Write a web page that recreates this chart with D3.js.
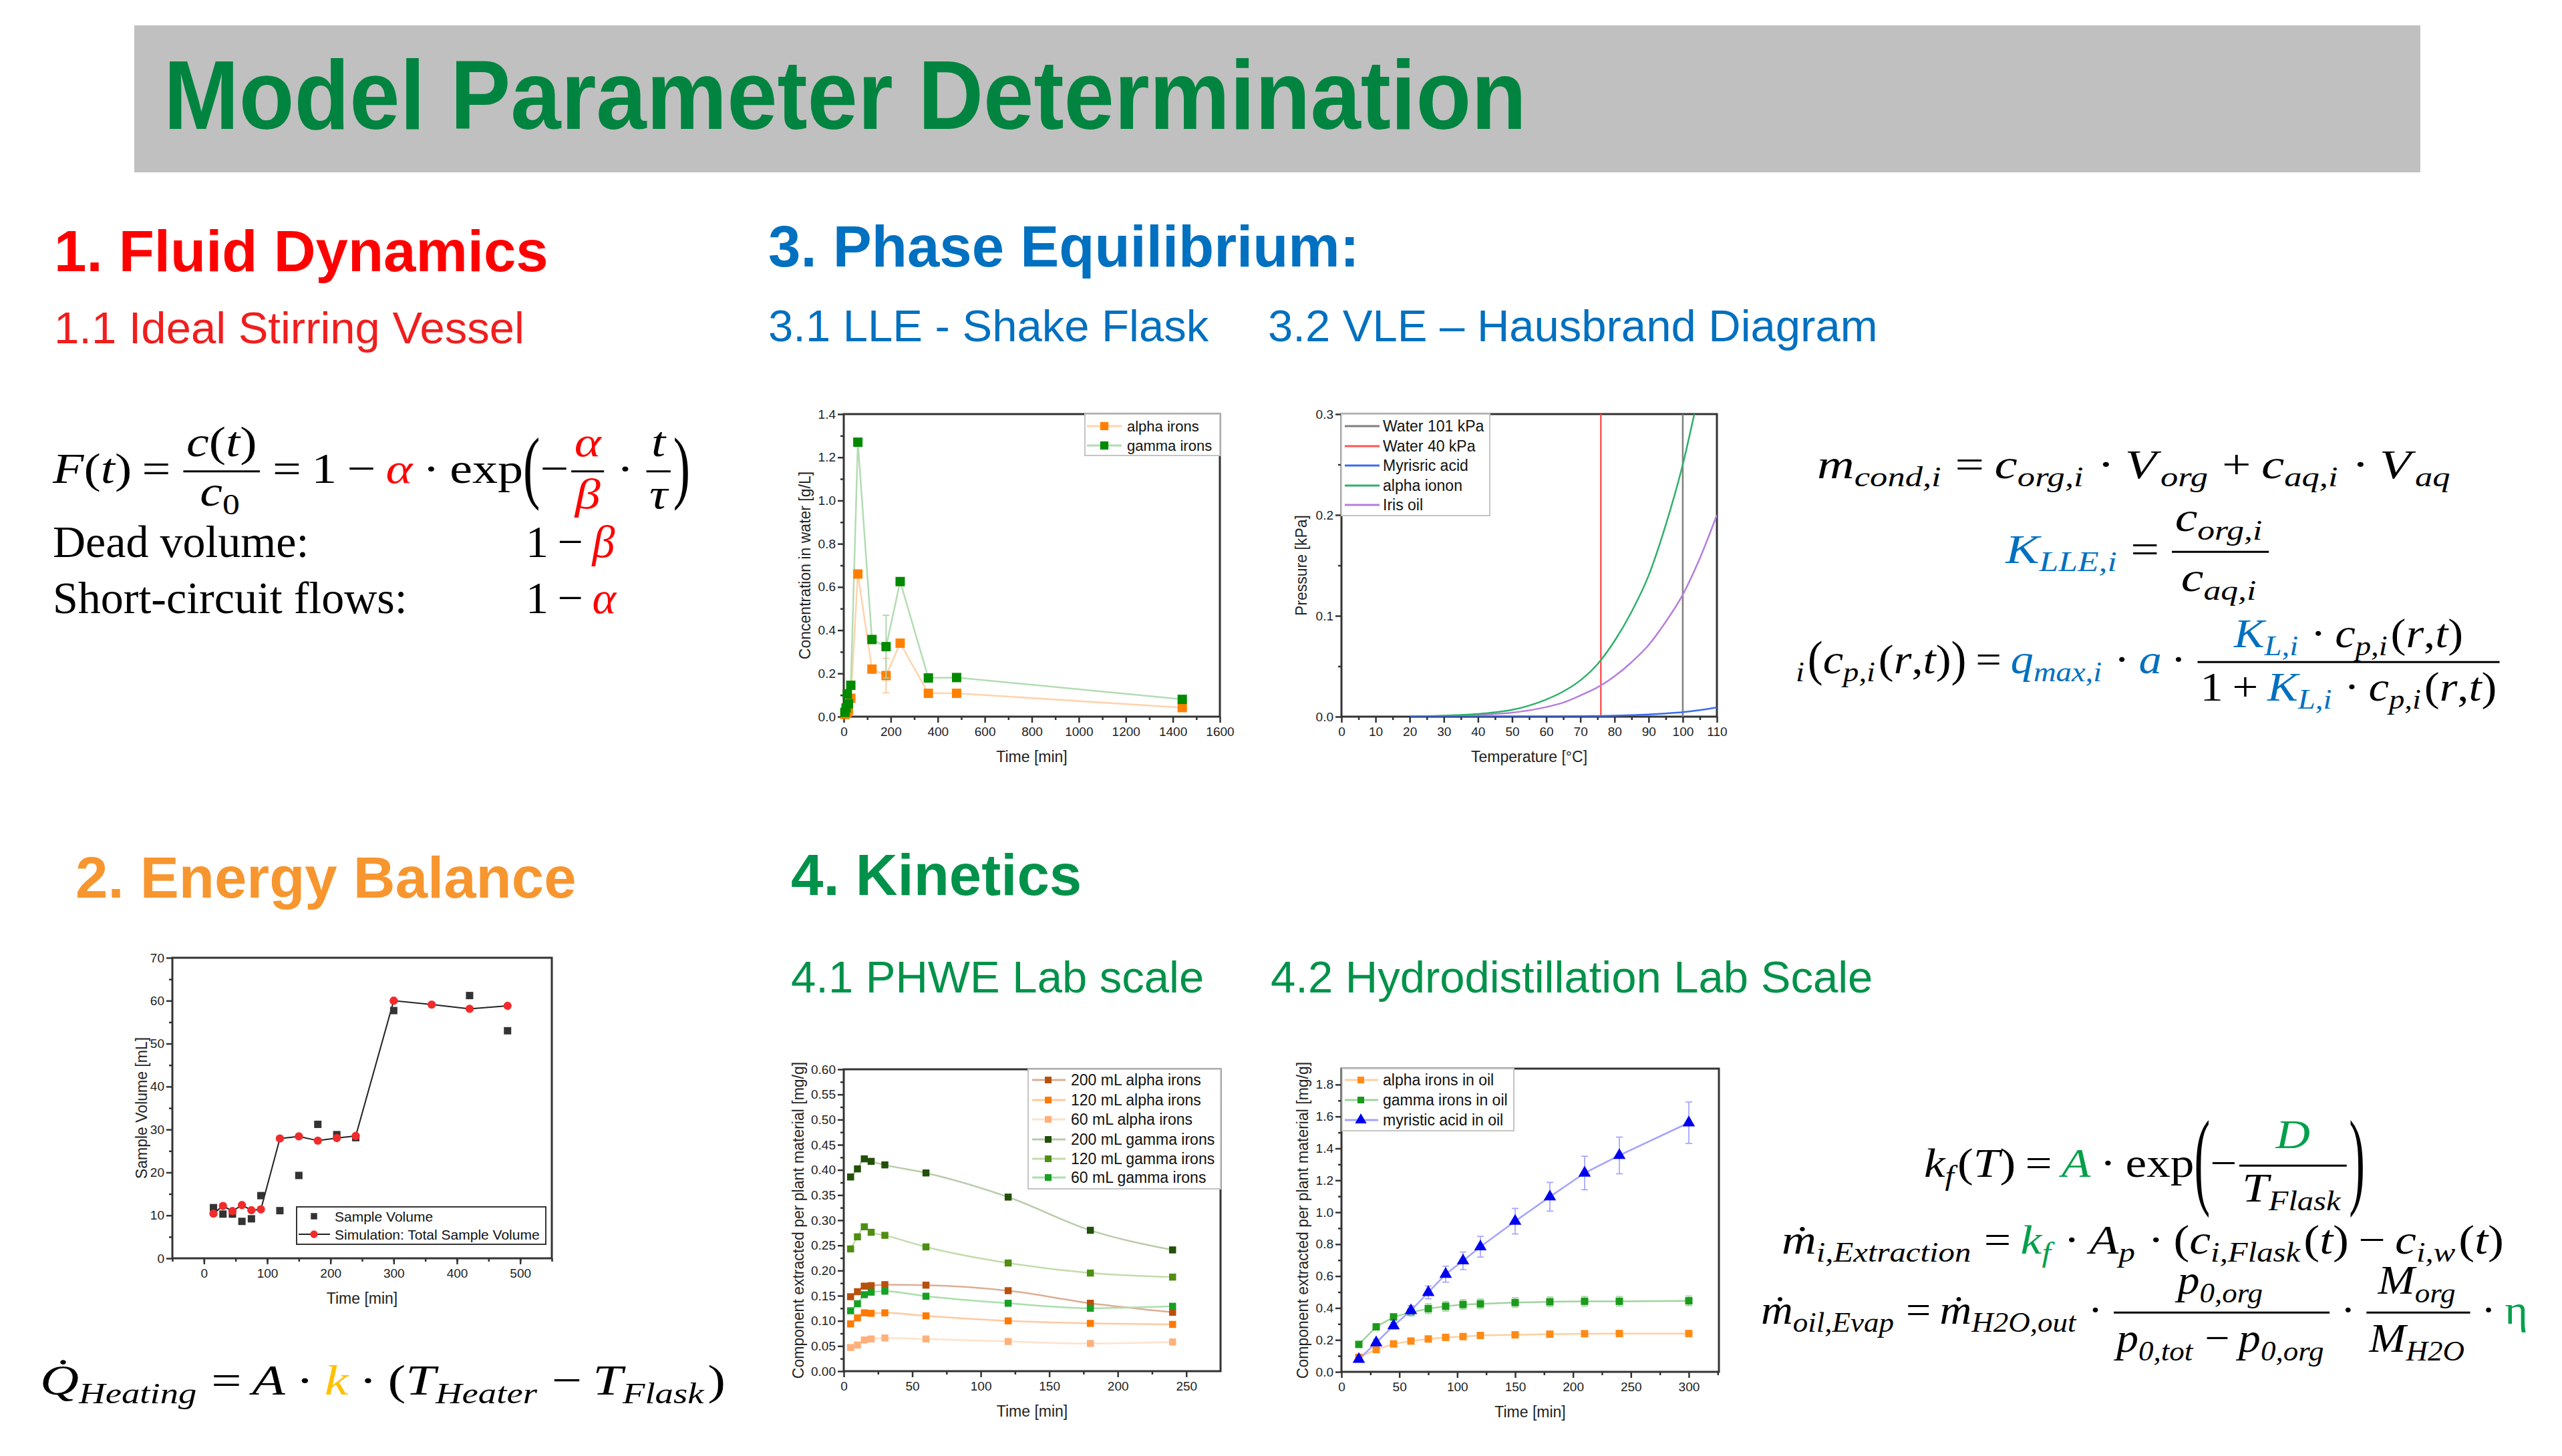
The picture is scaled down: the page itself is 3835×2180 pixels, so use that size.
<!DOCTYPE html>
<head>
  <meta charset="utf-8">
  <script src="https://d3js.org/d3.v7.min.js"></script>
  <style>
    body { margin: 0; background: #fff; }
    text { font-family: "Liberation Sans", Arial, sans-serif; }
    .math text { font-family: "Liberation Serif", "Times New Roman", serif; }
  </style>
</head>

<body>
  <script>
    // ---- 3.1 LLE shake flask
    var lleTime = [5, 10, 15, 20, 30, 60, 120, 180, 240, 360, 480, 1440];
    var lleAlpha = [0.01, 0.015, 0.02, 0.03, 0.085, 0.66, 0.22, 0.19, 0.34, 0.108, 0.108, 0.042];
    var lleGamma = [0.02, 0.04, 0.105, 0.06, 0.145, 1.27, 0.357, 0.324, 0.625, 0.179, 0.181, 0.08];
    var lleAlphaErr = [0, 0, 0, 0, 0, 0, 0, 0.08, 0, 0, 0, 0];
    var lleGammaErr = [0, 0, 0, 0, 0, 0, 0, 0.145, 0, 0, 0, 0];
    var lleNames = ["alpha irons", "gamma irons"];

    // ---- 3.2 VLE Hausbrand diagram
    var vleTemp = [20, 25, 30, 35, 40, 45, 50, 55, 60, 65, 70, 75, 80, 85, 90, 95, 100, 105, 110];
    var vleMyristic = [0, 0, 0, 0, 0, 0.0001, 0.0001, 0.0002, 0.0002, 0.0003, 0.0005, 0.0007, 0.001, 0.0015, 0.0022, 0.0032, 0.0045, 0.0065, 0.0092];
    var vleIonon = [0.0002, 0.0005, 0.001, 0.0017, 0.0027, 0.0043, 0.0068, 0.011, 0.017, 0.025, 0.036, 0.052, 0.075, 0.104, 0.14, 0.19, 0.25, 0.325, 0.4];
    var vleIris = [0.0001, 0.0003, 0.0006, 0.001, 0.0016, 0.0026, 0.004, 0.0062, 0.0095, 0.014, 0.021, 0.029, 0.04, 0.054, 0.071, 0.094, 0.121, 0.157, 0.2];
    var waterBoil = [100, 76];
    var vleNames = ["Water 101 kPa", "Water 40 kPa", "Myrisric acid", "alpha ionon", "Iris oil"];

    // ---- 2. Energy balance
    var evTime = [15, 30, 45, 60, 75, 90, 120, 150, 180, 210, 240, 300, 420, 480];
    var evSample = [11.8, 10.3, 10.3, 8.6, 9.2, 14.6, 11.1, 19.3, 31.2, 28.8, 28.1, 57.7, 61.2, 53.0];
    var simTime = [15, 30, 45, 60, 75, 90, 120, 150, 180, 210, 240, 300, 360, 420, 480];
    var simVolume = [10.4, 12.2, 11.0, 12.4, 11.2, 11.4, 27.9, 28.4, 27.4, 28.0, 28.5, 60.0, 59.1, 58.1, 58.8];
    var evNames = ["Sample Volume", "Simulation: Total Sample Volume"];

    // ---- 4.1 PHWE lab scale
    var phweTime = [5, 10, 15, 20, 30, 60, 120, 180, 240];
    var phweA200 = [0.148, 0.158, 0.169, 0.170, 0.172, 0.171, 0.160, 0.135, 0.117];
    var phweA120 = [0.094, 0.106, 0.116, 0.115, 0.116, 0.110, 0.100, 0.095, 0.093];
    var phweA60 = [0.047, 0.052, 0.062, 0.064, 0.066, 0.064, 0.059, 0.055, 0.058];
    var phweG200 = [0.386, 0.402, 0.422, 0.417, 0.410, 0.394, 0.346, 0.280, 0.241];
    var phweG120 = [0.243, 0.267, 0.287, 0.276, 0.270, 0.247, 0.215, 0.195, 0.187];
    var phweG60 = [0.120, 0.134, 0.152, 0.157, 0.159, 0.149, 0.135, 0.125, 0.129];
    var phweNames = ["200 mL alpha irons", "120 mL alpha irons", "60 mL alpha irons",
      "200 mL gamma irons", "120 mL gamma irons", "60 mL gamma irons"];

    // ---- 4.2 Hydrodistillation lab scale
    var hdTime = [15, 30, 45, 60, 75, 90, 105, 120, 150, 180, 210, 240, 300];
    var hdAlpha = [0.091, 0.14, 0.175, 0.193, 0.206, 0.216, 0.221, 0.228, 0.232, 0.236, 0.239, 0.24, 0.24];
    var hdGamma = [0.172, 0.282, 0.344, 0.373, 0.396, 0.411, 0.422, 0.426, 0.434, 0.439, 0.442, 0.442, 0.445];
    var hdMyristic = [0.079, 0.183, 0.289, 0.384, 0.498, 0.612, 0.696, 0.784, 0.944, 1.097, 1.246, 1.356, 1.561];
    var hdGammaErr = [0.01, 0.01, 0.02, 0.02, 0.03, 0.03, 0.03, 0.03, 0.03, 0.03, 0.03, 0.03, 0.03];
    var hdMyristicErr = [0.01, 0.02, 0.02, 0.03, 0.04, 0.05, 0.055, 0.065, 0.08, 0.09, 0.105, 0.115, 0.13];
    var hdNames = ["alpha irons in oil", "gamma irons in oil", "myristic acid in oil"];

    // tick labels
    var lleXTicks = [0, 200, 400, 600, 800, 1000, 1200, 1400, 1600];
    var lleYTicks = [0, 0.2, 0.4, 0.6, 0.8, 1.0, 1.2, 1.4];
    var vleXTicks = [0, 10, 20, 30, 40, 50, 60, 70, 80, 90, 100, 110];
    var vleYTicks = [0, 0.1, 0.2, 0.3];
    var evXTicks = [0, 100, 200, 300, 400, 500];
    var evYTicks = [0, 10, 20, 30, 40, 50, 60, 70];
    var phweXTicks = [0, 50, 100, 150, 200, 250];
    var phweYTicks = [0, 0.05, 0.1, 0.15, 0.2, 0.25, 0.3, 0.35, 0.4, 0.45, 0.5, 0.55, 0.6];
    var hdXTicks = [0, 50, 100, 150, 200, 250, 300];
    var hdYTicks = [0, 0.2, 0.4, 0.6, 0.8, 1.0, 1.2, 1.4, 1.6, 1.8];

    var svg = d3.select("body").append("svg")
      .attr("width", 3835).attr("height", 2180);
    svg.append("rect").attr("width", 3835).attr("height", 2180).attr("fill", "#fff");

    // banner + headings
    svg.append("rect").attr("x", 201).attr("y", 38).attr("width", 3422).attr("height", 220).attr("fill", "#c0c0c0");
    svg.append("text").attr("x", 245).attr("y", 193).attr("font-size", 146).attr("font-weight", "bold")
      .attr("fill", "#00843f").attr("textLength", 2040).attr("lengthAdjust", "spacingAndGlyphs")
      .text("Model Parameter Determination");

    function label(x, y, s, size, bold, color) {
      svg.append("text").attr("x", x).attr("y", y).attr("font-size", size)
        .attr("font-weight", bold ? "bold" : null).attr("fill", color).text(s);
    }
    label(81, 406, "1. Fluid Dynamics", 87, true, "#ff0000");
    label(81, 514, "1.1 Ideal Stirring Vessel", 67, false, "#f01e1e");
    label(1150, 399, "3. Phase Equilibrium:", 87, true, "#0070c0");
    label(1150, 511, "3.1 LLE - Shake Flask", 67, false, "#0070c0");
    label(1898, 511, "3.2 VLE \u2013 Hausbrand Diagram", 67, false, "#0070c0");
    label(113, 1344, "2. Energy Balance", 87, true, "#f7962f");
    label(1184, 1340, "4. Kinetics", 87, true, "#00924a");
    label(1184, 1486, "4.1 PHWE Lab scale", 67, false, "#00924a");
    label(1902, 1486, "4.2 Hydrodistillation  Lab Scale", 67, false, "#00924a");

    // ---------- chart helpers
    var clipN = 0;
    function chart(o) {
      var w = o.right - o.left, h = o.bottom - o.top;
      var g = svg.append("g").attr("transform", "translate(" + o.left + "," + o.top + ")");
      var x = d3.scaleLinear().domain(o.xDomain).range([0, w]);
      var y = d3.scaleLinear().domain(o.yDomain).range([h, 0]);
      var tidy = function (a) {
        a.select(".domain").remove();
        a.selectAll("line").attr("stroke", "#333").attr("stroke-width", 2.5);
        a.selectAll("text").attr("font-size", 19).attr("fill", "#222")
          .attr("font-family", "'Liberation Sans', Arial, sans-serif");
      };
      g.append("g").attr("transform", "translate(0," + h + ")")
        .call(d3.axisBottom(x).tickValues(o.xMinor).tickSize(5).tickFormat("")).call(tidy);
      g.append("g").call(d3.axisLeft(y).tickValues(o.yMinor).tickSize(5).tickFormat("")).call(tidy);
      g.append("g").attr("transform", "translate(0," + h + ")")
        .call(d3.axisBottom(x).tickValues(o.xTicks).tickSize(9).tickPadding(7).tickFormat(o.xFmt)).call(tidy);
      g.append("g")
        .call(d3.axisLeft(y).tickValues(o.yTicks).tickSize(9).tickPadding(3).tickFormat(o.yFmt)).call(tidy);
      g.append("rect").attr("width", w).attr("height", h).attr("fill", "none")
        .attr("stroke", "#333").attr("stroke-width", 3);
      g.append("text").attr("x", w / 2).attr("y", h + 68).attr("text-anchor", "middle")
        .attr("font-size", 23).attr("fill", "#222").text(o.xTitle);
      g.append("text").attr("transform", "translate(" + (-o.yOff) + "," + (h / 2) + ") rotate(-90)")
        .attr("dy", "0.35em").attr("text-anchor", "middle").attr("font-size", 23).attr("fill", "#222")
        .text(o.yTitle);
      var id = "clip" + (clipN++);
      g.append("clipPath").attr("id", id).append("rect").attr("width", w).attr("height", h);
      var plot = g.append("g").attr("clip-path", "url(#" + id + ")");
      return { g: g, plot: plot, x: x, y: y, w: w, h: h };
    }

    function series(c, xs, ys, s) {
      var pts = xs.map(function (d, i) { return [d, ys[i], s.err ? s.err[i] : 0]; });
      if (s.line) {
        c.plot.append("path").datum(pts)
          .attr("d", d3.line().x(function (d) { return c.x(d[0]); }).y(function (d) { return c.y(d[1]); })
            .curve(s.curve || d3.curveLinear))
          .attr("fill", "none").attr("stroke", s.line).attr("stroke-width", s.lw || 2.5);
      }
      if (s.err) {
        var eg = c.g.append("g").attr("stroke", s.errColor || s.line).attr("stroke-width", 1.8);
        pts.filter(function (d) { return d[2] > 0; }).forEach(function (d) {
          var px = c.x(d[0]), y1 = c.y(d[1] - d[2]), y2 = c.y(d[1] + d[2]);
          eg.append("line").attr("x1", px).attr("x2", px).attr("y1", y1).attr("y2", y2);
          eg.append("line").attr("x1", px - 5).attr("x2", px + 5).attr("y1", y1).attr("y2", y1);
          eg.append("line").attr("x1", px - 5).attr("x2", px + 5).attr("y1", y2).attr("y2", y2);
        });
      }
      if (s.marker) {
        c.g.append("g").selectAll("path").data(pts).join("path")
          .attr("transform", function (d) { return "translate(" + c.x(d[0]) + "," + c.y(d[1]) + ")"; })
          .attr("d", d3.symbol(s.symbol || d3.symbolSquare, s.size || 100))
          .attr("fill", s.marker);
      }
    }

    // legend box; row positions are relative to the box
    function legend(c, o) {
      var lg = c.g.append("g").attr("transform", "translate(" + o.x + "," + o.y + ")");
      lg.append("rect").attr("width", o.w).attr("height", o.h).attr("fill", "#fff")
        .attr("stroke", o.border || "#c4c4c4").attr("stroke-width", 2);
      o.rows.forEach(function (r, i) {
        var cy = o.rowY[i];
        if (r.line) lg.append("line").attr("x1", o.l1).attr("x2", o.l2).attr("y1", cy).attr("y2", cy)
          .attr("stroke", r.line).attr("stroke-width", r.lw || 3);
        if (r.marker) lg.append("path").attr("transform", "translate(" + o.mx + "," + cy + ")")
          .attr("d", d3.symbol(r.symbol || d3.symbolSquare, r.size || 100)).attr("fill", r.marker);
        lg.append("text").attr("x", o.tx).attr("y", cy).attr("dy", "0.36em")
          .attr("font-size", o.fs).attr("fill", "#111").text(r.label);
      });
    }

    var f1 = d3.format(".1f"), f2 = d3.format(".2f"), f0 = d3.format("d");

    // ---------- 3.1 LLE
    var lle = chart({
      left: 1263, right: 1826, top: 620, bottom: 1073,
      xDomain: [0, 1600], yDomain: [0, 1.4],
      xTicks: lleXTicks, xMinor: d3.range(100, 1600, 200), xFmt: f0,
      yTicks: lleYTicks, yMinor: d3.range(0.1, 1.4, 0.2), yFmt: f1,
      xTitle: "Time [min]", yTitle: "Concentration in water [g/L]", yOff: 58
    });
    series(lle, lleTime, lleAlpha, { line: "#ffd3ad", marker: "#ff8000", size: 196, err: lleAlphaErr, errColor: "#ffc79a" });
    series(lle, lleTime, lleGamma, { line: "#b3dcb3", marker: "#008a00", size: 196, err: lleGammaErr, errColor: "#a8d4a8" });
    legend(lle, {
      x: 361, y: 0, w: 202, h: 62, rowY: [18, 47], l1: 3, l2: 55, mx: 29, tx: 63, fs: 22,
      rows: [{ label: lleNames[0], line: "#ffd3ad", marker: "#ff8000", size: 150 },
        { label: lleNames[1], line: "#b3dcb3", marker: "#008a00", size: 150 }]
    });

    // ---------- 3.2 VLE
    var vle = chart({
      left: 2008, right: 2570, top: 620, bottom: 1073,
      xDomain: [0, 110], yDomain: [0, 0.3],
      xTicks: vleXTicks, xMinor: d3.range(5, 110, 10), xFmt: f0,
      yTicks: vleYTicks, yMinor: [0.05, 0.15, 0.25], yFmt: f1,
      xTitle: "Temperature [\u00b0C]", yTitle: "Pressure [kPa]", yOff: 60
    });
    var vleColors = ["#7f7f7f", "#ff5555", "#3a6cf0", "#2fb06a", "#b47ede"];
    waterBoil.forEach(function (t, i) {
      vle.plot.append("line").attr("x1", vle.x(t)).attr("x2", vle.x(t)).attr("y1", 0).attr("y2", vle.h)
        .attr("stroke", vleColors[i]).attr("stroke-width", 2.5);
    });
    series(vle, vleTemp, vleIris, { line: vleColors[4], curve: d3.curveMonotoneX, lw: 2.5 });
    series(vle, vleTemp, vleIonon, { line: vleColors[3], curve: d3.curveMonotoneX, lw: 2.5 });
    series(vle, vleTemp, vleMyristic, { line: vleColors[2], curve: d3.curveMonotoneX, lw: 2.5 });
    legend(vle, {
      x: 0, y: 0, w: 222, h: 152, rowY: [18, 48, 77, 107, 136], l1: 5, l2: 57, mx: -100, tx: 62, fs: 23,
      rows: vleNames.map(function (n, i) { return { label: n, line: vleColors[i] }; })
    });

    // ---------- 2. Energy balance
    var ev = chart({
      left: 258, right: 826, top: 1434, bottom: 1884,
      xDomain: [-50, 550], yDomain: [0, 70],
      xTicks: evXTicks, xMinor: d3.range(-50, 551, 50), xFmt: f0,
      yTicks: evYTicks, yMinor: d3.range(5, 70, 10), yFmt: f0,
      xTitle: "Time [min]", yTitle: "Sample Volume [mL]", yOff: 46
    });
    series(ev, simTime, simVolume, { line: "#222", lw: 2 });
    series(ev, evTime, evSample, { marker: "#333", size: 121 });
    series(ev, simTime, simVolume, { marker: "#f22a2a", symbol: d3.symbolCircle, size: 120 });
    legend(ev, {
      x: 186, y: 373, w: 373, h: 56, rowY: [14, 41], l1: 3, l2: 50, mx: 26, tx: 57, fs: 21, border: "#333",
      rows: [{ label: evNames[0], marker: "#333", size: 90 },
        { label: evNames[1], line: "#222", lw: 2, marker: "#f22a2a", symbol: d3.symbolCircle, size: 100 }]
    });

    // ---------- 4.1 PHWE
    var ph = chart({
      left: 1263, right: 1827, top: 1601, bottom: 2053,
      xDomain: [0, 275], yDomain: [0, 0.6],
      xTicks: phweXTicks, xMinor: d3.range(25, 275, 50), xFmt: f0,
      yTicks: phweYTicks, yMinor: d3.range(0.025, 0.6, 0.05), yFmt: f2,
      xTitle: "Time [min]", yTitle: "Component extracted per plant material [mg/g]", yOff: 68
    });
    var phMarks = ["#b8500c", "#ff7a00", "#ffb07a", "#22500a", "#4e8e12", "#16a024"];
    var phLines = ["#dcae94", "#ffc9a0", "#ffe2cc", "#b9ccaa", "#c3dbab", "#a9dfab"];
    [phweA200, phweA120, phweA60, phweG200, phweG120, phweG60].forEach(function (s, i) {
      series(ph, phweTime, s, { line: phLines[i], marker: phMarks[i], size: 110, curve: d3.curveMonotoneX });
    });
    legend(ph, {
      x: 276, y: 0, w: 288, h: 179, rowY: [16, 46, 75, 105, 134, 162], l1: 6, l2: 56, mx: 30, tx: 64, fs: 23,
      rows: phweNames.map(function (n, i) { return { label: n, line: phLines[i], marker: phMarks[i], size: 100 }; })
    });

    // ---------- 4.2 Hydrodistillation
    var hd = chart({
      left: 2008, right: 2573, top: 1600, bottom: 2054,
      xDomain: [0, 326], yDomain: [0, 1.9],
      xTicks: hdXTicks, xMinor: d3.range(25, 326, 50), xFmt: f0,
      yTicks: hdYTicks, yMinor: d3.range(0.1, 1.9, 0.2), yFmt: f1,
      xTitle: "Time [min]", yTitle: "Component extracted per plant material [mg/g]", yOff: 58
    });
    series(hd, hdTime, hdAlpha, { line: "#ffcf9f", marker: "#ff8a14", size: 121 });
    series(hd, hdTime, hdGamma, { line: "#9fd49f", marker: "#1b9a1b", size: 121, err: hdGammaErr, errColor: "#a6d6a6" });
    series(hd, hdTime, hdMyristic, { line: "#a3a3ff", marker: "#0000f0", symbol: d3.symbolTriangle, size: 150, err: hdMyristicErr, errColor: "#a8a8ff" });
    legend(hd, {
      x: 1, y: 0, w: 257, h: 93, rowY: [17, 47, 77], l1: 4, l2: 54, mx: 28, tx: 61, fs: 23,
      rows: [{ label: hdNames[0], line: "#ffcf9f", marker: "#ff8a14", size: 100 },
        { label: hdNames[1], line: "#9fd49f", marker: "#1b9a1b", size: 100 },
        { label: hdNames[2], line: "#a3a3ff", marker: "#0000f0", symbol: d3.symbolTriangle, size: 130 }]
    });

    // ---------- formulas
    var RED = "#ff0000", BLUE = "#0070c0", GREEN = "#00a04a", ORANGE = "#ffc000";
    function I(t, c) { return { t: t, it: true, c: c }; }
    function R(t, c) { return { t: t, c: c }; }
    function S(t, c, up, pre) { return { t: t, it: !up, sub: true, c: c, pre: pre }; }
    function O(t, c) { return { t: t, op: true, c: c }; }
    function B(t, k) { return { t: t, big: k }; }
    function Fr(n, d, up, down) { return { frac: [n, d], up: up, down: down }; }

    function lay(g, items, x0, y0, size) {
      var cx = x0;
      items.forEach(function (it) {
        if (it.frac) {
          var gn = g.append("g"), gd = g.append("g");
          var wn = lay(gn, it.frac[0], 0, 0, size), wd = lay(gd, it.frac[1], 0, 0, size);
          var w = Math.max(wn, wd) + size * 0.12;
          var ly = y0 - size * 0.27;
          cx += size * 0.05;
          gn.attr("transform", "translate(" + (cx + (w - wn) / 2) + "," + (ly - size * (it.up || 0.36)) + ")");
          gd.attr("transform", "translate(" + (cx + (w - wd) / 2) + "," + (ly + size * (it.down || 0.86)) + ")");
          g.append("line").attr("x1", cx).attr("x2", cx + w).attr("y1", ly).attr("y2", ly)
            .attr("stroke", "#000").attr("stroke-width", size * 0.045);
          cx += w + size * 0.05;
          return;
        }
        var fs = it.sub ? size * 0.68 : size;
        var pad = it.op ? size * 0.2 : 0;
        cx += pad + (it.pre ? size * it.pre : 0);
        var t = g.append("text").attr("x", cx).attr("y", it.big ? 0 : y0 + (it.sub ? size * 0.2 : 0))
          .attr("font-size", fs).attr("font-style", it.it ? "italic" : null)
          .attr("fill", it.c || "#000").text(it.t);
        if (it.big) {
          var ax = size * 0.27;
          t.attr("transform", "translate(0," + (y0 - ax) + ") scale(1," + it.big + ") translate(0," + ax + ")");
        }
        cx += t.node().getComputedTextLength() + pad + (it.sub ? size * 0.07 : 0);
      });
      return cx - x0;
    }
    function formula(x, y, width, size, items) {
      var g = svg.append("g").attr("class", "math");
      var w = lay(g, items, 0, 0, size);
      var sx = width ? width / w : 1;
      g.attr("transform", "translate(" + x + "," + y + ") scale(" + sx + ",1)");
    }

    // 1. fluid dynamics
    formula(79, 723, 954, 64, [I("F"), R("("), I("t"), R(")"), O("="),
      Fr([I("c"), R("("), I("t"), R(")")], [I("c"), S("0", null, true)], 0.36, 0.8),
      O("="), R("1"), O("\u2212"), I("\u03b1", RED), O("\u00b7"), R("exp"), B("(", 1.9), R("\u2212"),
      Fr([I("\u03b1", RED)], [I("\u03b2", RED)]), O("\u00b7"), Fr([I("t")], [I("\u03c4")]), B(")", 1.9)]);
    formula(79, 834, 0, 68, [R("Dead volume:")]);
    formula(787, 834, 0, 68, [R("1"), O("\u2212"), I("\u03b2", RED)]);
    formula(79, 918, 0, 68, [R("Short-circuit flows:")]);
    formula(787, 918, 0, 68, [R("1"), O("\u2212"), I("\u03b1", RED)]);

    // 2. energy balance
    formula(60, 2088, 1026, 64, [I("Q\u0307"), S("Heating"), O("="), I("A"), O("\u00b7"), I("k", ORANGE),
      O("\u00b7"), R("("), I("T"), S("Heater"), O("\u2212"), I("T"), S("Flask"), R(")")]);

    // 3. phase equilibrium
    formula(2720, 716, 953, 62, [I("m"), S("cond,i"), O("="), I("c"), S("org,i"), O("\u00b7"), I("V"), S("org", null, false, 0.08),
      O("+"), I("c"), S("aq,i"), O("\u00b7"), I("V"), S("aq", null, false, 0.08)]);
    formula(3002, 843, 398, 62, [I("K", BLUE), S("LLE,i", BLUE), O("="),
      Fr([I("c"), S("org,i")], [I("c"), S("aq,i")], 0.5, 0.95)]);
    var kc = [I("K", BLUE), S("L,i", BLUE), O("\u00b7"), I("c"), S("p,i"), R("("), I("r"), R(", "), I("t"), R(")")];
    formula(2688, 1008, 1057, 62, [S("i"), B("(", 1.2), I("c"), S("p,i"), R("("), I("r"), R(", "), I("t"), R(")"), B(")", 1.2),
      O("="), I("q", BLUE), S("max,i", BLUE), O("\u00b7"), I("a", BLUE), O("\u00b7"),
      Fr(kc, [R("1"), O("+")].concat(kc), 0.36, 0.93)]);

    // 4. kinetics
    formula(2880, 1762, 660, 62, [I("k"), S("f"), R("("), I("T"), R(")"), O("="), I("A", GREEN), O("\u00b7"),
      R("exp"), B("(", 2.6), R("\u2212"), Fr([I("D", GREEN)], [I("T"), S("Flask")], 0.42, 0.87), B(")", 2.6)]);
    formula(2667, 1877, 1081, 62, [I("\u1e41"), S("i,Extraction"), O("="), I("k", GREEN), S("f", GREEN), O("\u00b7"),
      I("A"), S("p"), O("\u00b7"), R("("), I("c"), S("i,Flask"), R("("), I("t"), R(")"), O("\u2212"),
      I("c"), S("i,w"), R("("), I("t"), R(")")]);
    formula(2636, 1982, 1148, 62, [I("\u1e41"), S("oil,Evap"), O("="), I("\u1e41"), S("H2O,out"), O("\u00b7"),
      Fr([I("p"), S("0,org")], [I("p"), S("0,tot"), O("\u2212"), I("p"), S("0,org")], 0.45, 0.95), O("\u00b7"),
      Fr([I("M"), S("org")], [I("M"), S("H2O")], 0.45, 0.95), O("\u00b7"), R("\u03b7", GREEN)]);
  </script>
</body>
